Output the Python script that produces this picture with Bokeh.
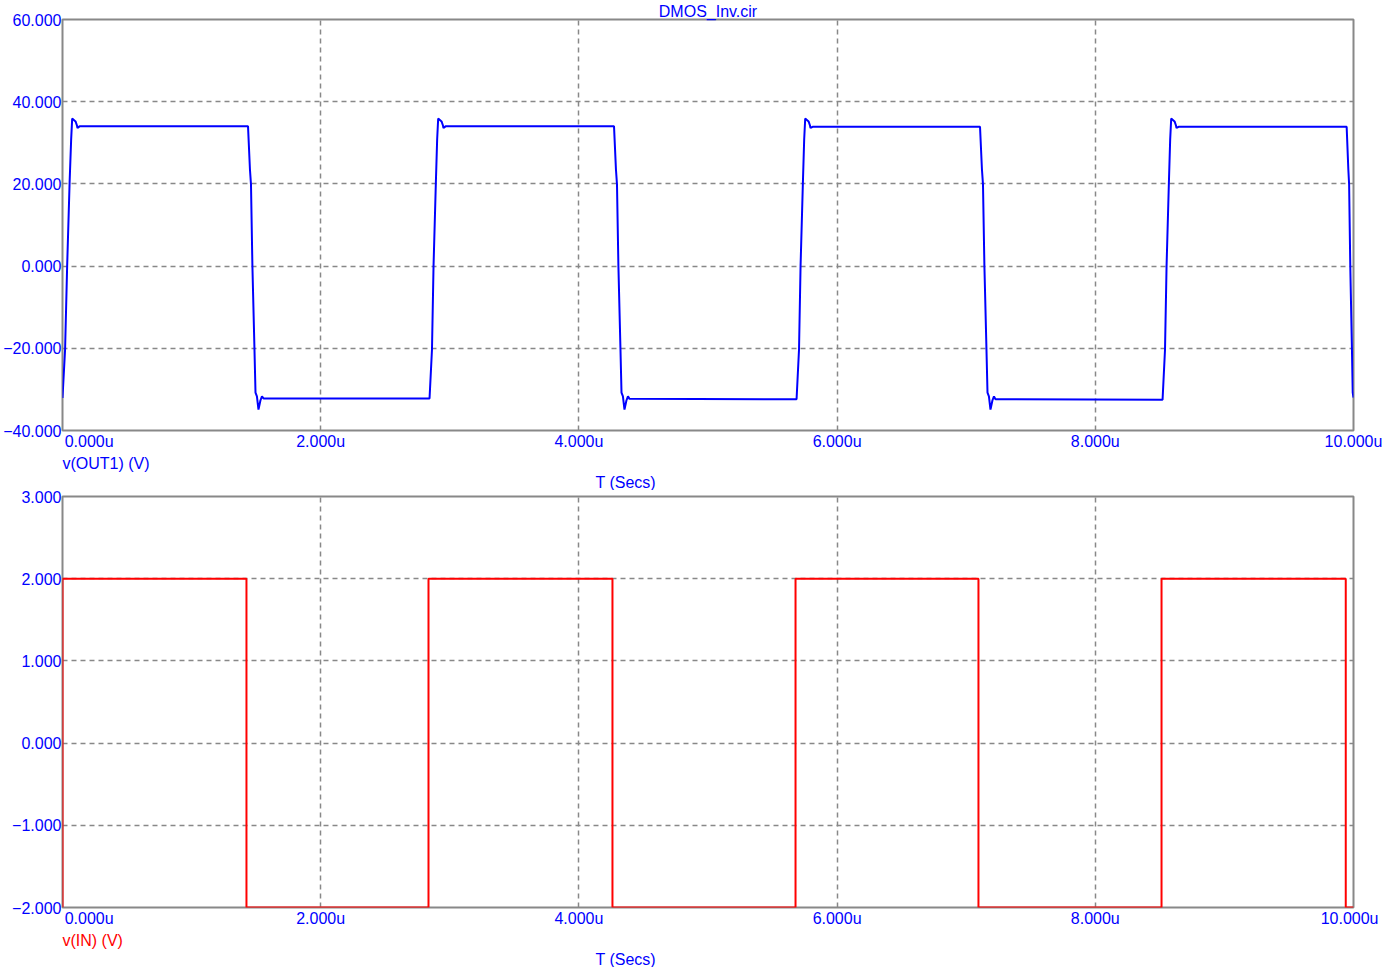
from bokeh.plotting import figure
from bokeh.layouts import column
from bokeh.models import Range1d, FixedTicker, CustomJSTickFormatter, Title
from bokeh.embed import file_html
from bokeh.resources import INLINE

# ---- data (time in microseconds, volts) ----
out_t = [
    0.000, 0.020, 0.036, 0.055, 0.067, 0.075, 0.101, 0.112, 0.116, 0.132,
    1.437, 1.452, 1.460, 1.471, 1.487, 1.495, 1.506, 1.518, 1.533, 1.545, 1.557,
    2.843, 2.862, 2.874, 2.892, 2.902, 2.910, 2.936, 2.947, 2.951, 2.967,
    4.272, 4.287, 4.295, 4.306, 4.322, 4.330, 4.341, 4.353, 4.368, 4.380, 4.392,
    5.686, 5.705, 5.717, 5.735, 5.745, 5.753, 5.779, 5.790, 5.794, 5.810,
    7.107, 7.122, 7.130, 7.141, 7.157, 7.165, 7.176, 7.188, 7.203, 7.215, 7.227,
    8.521, 8.540, 8.552, 8.570, 8.580, 8.588, 8.614, 8.625, 8.629, 8.645,
    9.947, 9.960, 9.966, 9.975, 9.988, 9.994, 10.000,
]
out_v = [
    -32.1, -20.3, 0.0, 20.3, 30.8, 35.9, 35.2, 34.2, 33.6, 34.0,
    34.0, 23.5, 19.9, 0.0, -20.3, -30.8, -31.7, -34.9, -32.7, -31.7, -32.2,
    -32.2, -20.3, 0.0, 20.3, 30.8, 35.9, 35.2, 34.2, 33.6, 34.0,
    34.0, 23.5, 19.9, 0.0, -20.3, -30.8, -31.7, -34.9, -32.7, -31.7, -32.3,
    -32.4, -20.3, 0.0, 20.3, 30.8, 35.9, 35.2, 34.2, 33.6, 33.9,
    33.9, 23.5, 19.9, 0.0, -20.3, -30.8, -31.7, -34.9, -32.7, -31.7, -32.4,
    -32.5, -20.3, 0.0, 20.3, 30.8, 35.9, 35.2, 34.2, 33.6, 33.9,
    33.9, 23.5, 19.9, 0.0, -20.3, -30.8, -32.0,
]
in_t = [0.0, 0.0, 1.425, 1.425, 2.835, 2.835, 4.260, 4.260, 5.678, 5.678,
        7.095, 7.095, 8.513, 8.513, 9.940, 9.940, 10.0]
in_v = [-2, 2, 2, -2, -2, 2, 2, -2, -2, 2, 2, -2, -2, 2, 2, -2, -2]

x_ticks = [0, 2, 4, 6, 8, 10]
top_y_ticks = [-40, -20, 0, 20, 40, 60]
bot_y_ticks = [-2, -1, 0, 1, 2, 3]

title_text = "DMOS_Inv.cir"
top_trace_label = "v(OUT1) (V)"
bot_trace_label = "v(IN) (V)"
x_label = "T (Secs)"

FONT = "Liberation Sans"
BLUE = "#0000FF"
RED = "#FF0000"
GRAY = "#888888"

xfmt = CustomJSTickFormatter(code="""
    const s = tick.toFixed(3) + 'u';
    if (tick == 0) return '\\u2007\\u2007\\u2007\\u2007\\u2007\\u2007' + s;
    return s;
""")
yfmt = CustomJSTickFormatter(code="""
    return tick.toFixed(3).replace('-', '\\u2212');
""")


def make_fig(y0, y1, yticks, label, label_color, with_title):
    kw = {}
    if with_title:
        kw["title"] = title_text
    p = figure(frame_width=1291, frame_height=411,
               x_range=Range1d(0, 10), y_range=Range1d(y0, y1),
               output_backend="svg", toolbar_location=None,
               min_border_left=54, min_border_right=33,
               min_border_top=12 if with_title else 6,
               min_border_bottom=0, **kw)
    if with_title:
        p.title.text_color = BLUE
        p.title.text_font = FONT
        p.title.text_font_size = "16px"
        p.title.text_font_style = "normal"
        p.title.align = "center"
        p.title.standoff = 0
        p.title.offset = 0
    p.background_fill_color = "white"
    p.border_fill_color = "white"
    p.outline_line_color = GRAY
    p.outline_line_width = 2

    for ax in (p.xaxis[0], p.yaxis[0]):
        ax.axis_line_color = None
        ax.major_tick_line_color = None
        ax.minor_tick_line_color = None
        ax.major_tick_out = 0
        ax.major_tick_in = 0
        ax.minor_tick_out = 0
        ax.minor_tick_in = 0
        ax.major_label_text_color = BLUE
        ax.major_label_text_font = FONT
        ax.major_label_text_font_size = "16px"
        ax.major_label_standoff = 2
    p.xaxis[0].ticker = FixedTicker(ticks=x_ticks)
    p.xaxis[0].formatter = xfmt
    p.yaxis[0].ticker = FixedTicker(ticks=yticks)
    p.yaxis[0].formatter = yfmt
    p.yaxis[0].major_label_standoff = 1

    for g in (p.xgrid[0], p.ygrid[0]):
        g.grid_line_color = GRAY
        g.grid_line_dash = "5 4"
        g.grid_line_width = 1.5
    p.xgrid[0].ticker = FixedTicker(ticks=x_ticks[1:-1])
    p.ygrid[0].ticker = FixedTicker(ticks=yticks[1:-1])

    t1 = Title(text=label, text_color=label_color, text_font=FONT,
               text_font_size="16px", text_font_style="normal",
               text_line_height=0.85,
               align="left", standoff=0, offset=0)
    p.add_layout(t1, "below")
    t2 = Title(text=x_label, text_color=BLUE, text_font=FONT,
               text_font_size="16px", text_font_style="normal",
               text_line_height=0.85,
               align="left", standoff=0, offset=533)
    p.add_layout(t2, "below")
    return p


p1 = make_fig(-40, 60, top_y_ticks, top_trace_label, BLUE, True)
p1.line(out_t, out_v, line_color=BLUE, line_width=2)

p2 = make_fig(-2, 3, bot_y_ticks, bot_trace_label, RED, False)
p2.line(in_t, in_v, line_color=RED, line_width=2)

layout = column(p1, p2, spacing=0)
open("out.html", "w").write(file_html(layout, INLINE))
